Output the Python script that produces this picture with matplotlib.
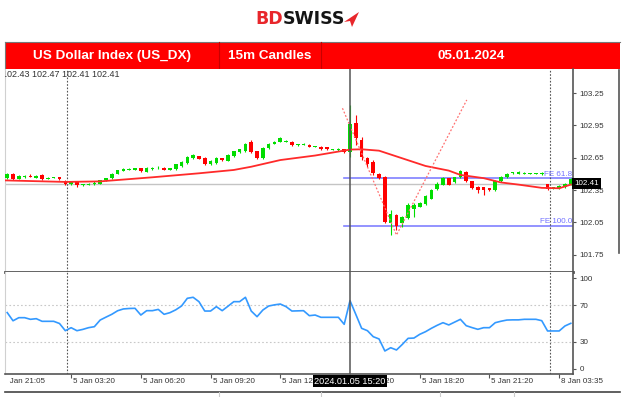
import matplotlib
matplotlib.use('Agg')
import matplotlib.pyplot as plt
from matplotlib.patches import Rectangle, Polygon
from matplotlib.transforms import Bbox, TransformedBbox, offset_copy

plt.rcParams['font.family'] = ['Liberation Sans', 'DejaVu Sans']

# ---- data (15m candles, index 1..98) ----
opens = [102.46, 102.50, 102.455, 102.47, 102.48, 102.465, 102.49, 102.455, 102.465, 102.47,
         102.435, 102.405, 102.425, 102.395, 102.40, 102.405, 102.41, 102.44, 102.46, 102.50,
         102.53, 102.54, 102.54, 102.55, 102.52, 102.545, 102.55, 102.555, 102.54, 102.545,
         102.57, 102.60, 102.645, 102.665, 102.65, 102.59, 102.60, 102.645, 102.62, 102.665,
         102.70, 102.71, 102.80, 102.71, 102.645, 102.74, 102.78, 102.80, 102.80, 102.80,
         102.765, 102.77, 102.77, 102.75, 102.75, 102.745, 102.725, 102.72, 102.73, 102.706,
         102.97, 102.81, 102.645, 102.61, 102.50, 102.474, 102.047, 102.118, 102.04, 102.087,
         102.17, 102.195, 102.22, 102.27, 102.356, 102.40, 102.46, 102.42, 102.47, 102.52,
         102.43, 102.38, 102.375, 102.365, 102.35, 102.43, 102.47, 102.505, 102.50, 102.50,
         102.50, 102.50, 102.495, 102.406, 102.36, 102.365, 102.375, 102.405]
highs = [102.51, 102.51, 102.49, 102.49, 102.50, 102.49, 102.50, 102.47, 102.475, 102.475,
         102.44, 102.43, 102.43, 102.41, 102.415, 102.43, 102.445, 102.465, 102.505, 102.54,
         102.55, 102.555, 102.555, 102.555, 102.56, 102.56, 102.57, 102.56, 102.555, 102.595,
         102.615, 102.665, 102.68, 102.67, 102.655, 102.625, 102.655, 102.65, 102.68, 102.715,
         102.735, 102.79, 102.81, 102.715, 102.745, 102.785, 102.805, 102.845, 102.815, 102.805,
         102.78, 102.785, 102.775, 102.76, 102.755, 102.75, 102.735, 102.74, 102.735, 103.14,
         103.05, 102.84, 102.66, 102.625, 102.51, 102.48, 102.16, 102.13, 102.11, 102.23,
         102.23, 102.24, 102.30, 102.36, 102.42, 102.47, 102.465, 102.475, 102.535, 102.525,
         102.435, 102.385, 102.38, 102.37, 102.44, 102.48, 102.505, 102.52, 102.53, 102.515,
         102.51, 102.51, 102.515, 102.41, 102.38, 102.395, 102.415, 102.46]
lows = [102.45, 102.44, 102.45, 102.46, 102.47, 102.46, 102.445, 102.45, 102.46, 102.445,
        102.40, 102.40, 102.378, 102.39, 102.395, 102.40, 102.405, 102.435, 102.455, 102.495,
        102.525, 102.535, 102.535, 102.52, 102.515, 102.54, 102.545, 102.535, 102.535, 102.54,
        102.565, 102.595, 102.64, 102.635, 102.585, 102.585, 102.595, 102.62, 102.615, 102.66,
        102.695, 102.705, 102.695, 102.64, 102.64, 102.735, 102.775, 102.795, 102.795, 102.76,
        102.76, 102.765, 102.745, 102.745, 102.725, 102.725, 102.72, 102.715, 102.695, 102.66,
        102.77, 102.63, 102.56, 102.49, 102.455, 102.04, 101.93, 101.98, 102.01, 102.08,
        102.10, 102.19, 102.215, 102.265, 102.35, 102.395, 102.395, 102.415, 102.465, 102.425,
        102.36, 102.32, 102.30, 102.345, 102.345, 102.425, 102.465, 102.50, 102.495, 102.495,
        102.495, 102.495, 102.49, 102.35, 102.355, 102.36, 102.37, 102.40]
closes = [102.50, 102.45, 102.48, 102.475, 102.475, 102.48, 102.45, 102.465, 102.47, 102.45,
          102.405, 102.425, 102.395, 102.405, 102.41, 102.415, 102.44, 102.46, 102.50, 102.535,
          102.545, 102.545, 102.55, 102.525, 102.55, 102.55, 102.555, 102.54, 102.55, 102.59,
          102.61, 102.66, 102.675, 102.64, 102.59, 102.62, 102.65, 102.625, 102.675, 102.71,
          102.73, 102.78, 102.70, 102.645, 102.74, 102.78, 102.80, 102.83, 102.805, 102.765,
          102.775, 102.78, 102.75, 102.755, 102.73, 102.73, 102.73, 102.73, 102.70, 102.96,
          102.83, 102.66, 102.59, 102.51, 102.46, 102.056, 102.127, 102.016, 102.10, 102.21,
          102.21, 102.23, 102.29, 102.35, 102.41, 102.46, 102.40, 102.47, 102.53, 102.43,
          102.365, 102.35, 102.35, 102.35, 102.436, 102.47, 102.50, 102.51, 102.515, 102.505,
          102.505, 102.505, 102.51, 102.36, 102.375, 102.39, 102.41, 102.45]

# moving average (red line), read at a few candles
ma_idx = [0, 11, 17, 26, 34, 40, 43, 48, 54, 60, 62, 65, 69, 73, 77, 79, 83, 86, 89, 93, 96, 98]
ma_val = [102.44, 102.425, 102.43, 102.468, 102.505, 102.536, 102.566, 102.628, 102.67, 102.725,
          102.728, 102.715, 102.644, 102.573, 102.53, 102.49, 102.46, 102.42, 102.40, 102.37,
          102.366, 102.40]

# RSI, one value per candle
rsi = [62, 53, 56.4, 56.4, 54.6, 55.3, 52.4, 52.4, 52.4, 50,
       42.1, 45.4, 42.1, 43.5, 45.4, 46.5, 53.8, 57, 60.1, 64,
       66, 66.5, 66.7, 59.3, 64.1, 64.1, 65.5, 60.1, 61.9, 65,
       69.2, 77.7, 78.8, 74, 63.7, 63.7, 68.5, 64.1, 69, 74,
       74, 78.8, 63.7, 57.5, 64.8, 69.2, 70.5, 71.4, 68.5, 63.7,
       63.9, 64.1, 58.6, 59.3, 56.8, 56.8, 56.8, 56.8, 49.1, 75.1,
       60, 44.7, 42.1, 35.5, 33, 19.8, 23.4, 20.9, 27, 33.7,
       34, 38.1, 41, 44.7, 48, 50.9, 48.4, 51.5, 54.6, 47.6,
       45.5, 43.6, 45.4, 45.4, 50.9, 52.5, 53.8, 54, 54, 54.6,
       54.6, 54.6, 53.1, 41.8, 41.8, 41.8, 47.3, 50.2]

# fibo expansion drawing (A, B, C) and its levels
fib_idx = [58.7, 68.0, 80.1]
fib_val = [103.109, 101.932, 103.186]
fe_levels = [102.46, 102.016]
fe_labels = ['FE 61.8', 'FE 100.0']
fe_start = 59

last_price = 102.41
price_ticks = [103.25, 102.95, 102.65, 102.35, 102.05, 101.75]
rsi_ticks = [100, 70, 30, 0]
xtick_idx = [0, 12, 24, 36, 48, 60, 72, 84, 96]
xtick_labels = ['4 Jan 21:05', '5 Jan 03:20', '5 Jan 06:20', '5 Jan 09:20', '5 Jan 12:20',
                '5 Jan 15:20', '5 Jan 18:20', '5 Jan 21:20', '8 Jan 03:35']
sep_idx = [11.3, 94.4]
cross_idx = 60
cross_label = '2024.01.05 15:20'
ohlc_text = '102.43 102.47 102.41 102.41'

idx = list(range(1, len(closes) + 1))

W, H = 624, 397
fig = plt.figure(figsize=(W / 100, H / 100), dpi=100)


def frac(x0, y0, x1, y1):
    return [x0 / W, 1 - y1 / H, (x1 - x0) / W, (y1 - y0) / H]


# decorations in pixel coordinates
deco = fig.add_axes([0, 0, 1, 1])
deco.set_xlim(0, W)
deco.set_ylim(H, 0)
deco.axis('off')

deco.text(283, 19.5, 'BD', ha='right', va='center', fontsize=12.5, fontweight='bold',
          color='#e8262b', family='DejaVu Sans')
deco.text(283, 19.5, 'SWISS', ha='left', va='center', fontsize=12.5, fontweight='bold',
          color='#151515', family='DejaVu Sans')
deco.add_patch(Polygon([(344, 22), (359, 12), (352, 27), (350, 21)], closed=True,
                       fc='#e8262b', ec='none'))

deco.add_patch(Rectangle((5, 42), 615, 27, fc='#ff0000', ec='none'))
deco.plot([5, 620], [42, 42], color='#777777', lw=0.8)
deco.plot([5, 5], [42, 69], color='#777777', lw=0.8)
for xd in [219, 321]:
    deco.plot([xd, xd], [42, 69], color='#c80000', lw=0.8)
banner_font = ['Liberation Sans', 'DejaVu Sans']
deco.text(112, 56, 'US Dollar Index (US_DX)', ha='center', va='center', color='white',
          fontsize=9.7, fontweight='bold', family=banner_font)
deco.text(270, 56, '15m Candles', ha='center', va='center', color='white',
          fontsize=9.7, fontweight='bold', family=banner_font)
deco.text(471, 56, '05.01.2024', ha='center', va='center', color='white',
          fontsize=9.7, fontweight='bold', family=banner_font)

deco.plot([5, 620], [392, 392], color='#444444', lw=1.2)
for xd in [219, 321, 440, 514]:
    deco.plot([xd, xd], [392, 397], color='#cccccc', lw=0.8)
deco.plot([619, 619], [70, 253], color='#555555', lw=1.2)

# ---- price panel ----
ax = fig.add_axes(frac(5, 69, 573, 272))
rx = fig.add_axes(frac(5, 272, 573, 374), sharex=ax)

up = [c >= o for o, c in zip(opens, closes)]
cols = ['#00dd00' if u else '#ff0000' for u in up]
bottoms = [min(o, c) for o, c in zip(opens, closes)]
heights = [max(abs(c - o), 0.008) for o, c in zip(opens, closes)]

ax.axhline(last_price, color='#c4c4c4', lw=1, zorder=1)
for lvl, lab in zip(fe_levels, fe_labels):
    ax.plot([fe_start, 98.38], [lvl, lvl], color='#8080ff', lw=1.2, zorder=1)
    ax.text(98.25, lvl + 0.005, lab, ha='right', va='bottom', fontsize=5.8, color='#7070ff')
ax.vlines(idx, lows, highs, colors=cols, lw=0.8, zorder=2)
ax.bar(idx, heights, bottom=bottoms, width=0.62, color=cols, zorder=3)
ax.plot(ma_idx, ma_val, color='#ff2a2a', lw=1.3, zorder=4)
ax.plot(fib_idx, fib_val, color='#ff7070', lw=0.9, ls=(0, (1.5, 1.5)), zorder=4)

for a in (ax, rx):
    for s in sep_idx:
        a.axvline(s, color='#555555', lw=0.8, ls=(0, (1.5, 1.5)), zorder=1)
    a.axvline(cross_idx, color='#555555', lw=1.1, zorder=5)

ax.set_xlim(0.62, 98.38)
ax.set_ylim(101.589, 103.473)
ax.yaxis.tick_right()
ax.set_yticks(price_ticks)
ax.set_yticklabels([f'{t:.2f}' for t in price_ticks])
ax.tick_params(axis='y', length=2.5, width=0.8, color='#555555', labelsize=5.8,
               labelcolor='#333333', pad=2)
ax.tick_params(axis='x', bottom=False, labelbottom=False)
ax.spines['top'].set_visible(False)
ax.spines['left'].set_color('#d0d0d0')
ax.spines['left'].set_linewidth(0.8)
ax.spines['right'].set_color('#555555')
ax.spines['right'].set_linewidth(1.2)
ax.spines['bottom'].set_color('#555555')
ax.spines['bottom'].set_linewidth(2)

ax.text(1.0, last_price, f'{last_price:.2f}', transform=offset_copy(
    ax.get_yaxis_transform(), fig=fig, x=1, units='dots'), ha='left', va='center',
    fontsize=5.8, color='white', zorder=6, clip_on=False,
    bbox=dict(boxstyle='square,pad=0.3', fc='black', ec='none'))
ax.text((119 - 5) / 568, 1 - 1 / 203, ohlc_text, transform=ax.transAxes, ha='right',
        va='top', fontsize=6.5, color='#333333', clip_on=True)

# ---- RSI panel ----
rx.plot(idx, rsi, color='#3399ff', lw=1.2, zorder=4)
for lvl in (70, 30):
    rx.axhline(lvl, color='#c8c8c8', lw=0.8, ls=(0, (1.5, 2)), zorder=1)
rx.set_ylim(-5.5, 106.6)
rx.yaxis.tick_right()
rx.set_yticks(rsi_ticks)
rx.set_yticklabels([str(t) for t in rsi_ticks])
rx.tick_params(axis='y', length=2.5, width=0.8, color='#555555', labelsize=5.8,
               labelcolor='#333333', pad=2)
rx.set_xticks(xtick_idx[1:])
rx.tick_params(axis='x', length=3, width=0.8, color='#555555', labelbottom=False)
rx.spines['top'].set_visible(False)
rx.spines['left'].set_color('#d0d0d0')
rx.spines['left'].set_linewidth(0.8)
rx.spines['right'].set_color('#555555')
rx.spines['right'].set_linewidth(1.2)
rx.spines['bottom'].set_color('#555555')
rx.spines['bottom'].set_linewidth(1.2)

clip = TransformedBbox(Bbox.from_extents(8 / W, 0, 1, 1), fig.transFigure)
lab_tr = offset_copy(rx.get_xaxis_transform(), fig=fig, x=2, units='dots')
for xi, lab in zip(xtick_idx, xtick_labels):
    t = rx.text(xi, -0.07, lab, transform=lab_tr, ha='left', va='center', fontsize=5.8,
                color='#333333')
    t.set_clip_box(clip)
    t.set_clip_on(True)
rx.text(cross_idx, -0.07, cross_label, transform=rx.get_xaxis_transform(), ha='center',
        va='center', fontsize=6.6, color='white', zorder=6, clip_on=False,
        bbox=dict(boxstyle='square,pad=0.15', fc='black', ec='none'))

fig.savefig('out.png', dpi=100)
